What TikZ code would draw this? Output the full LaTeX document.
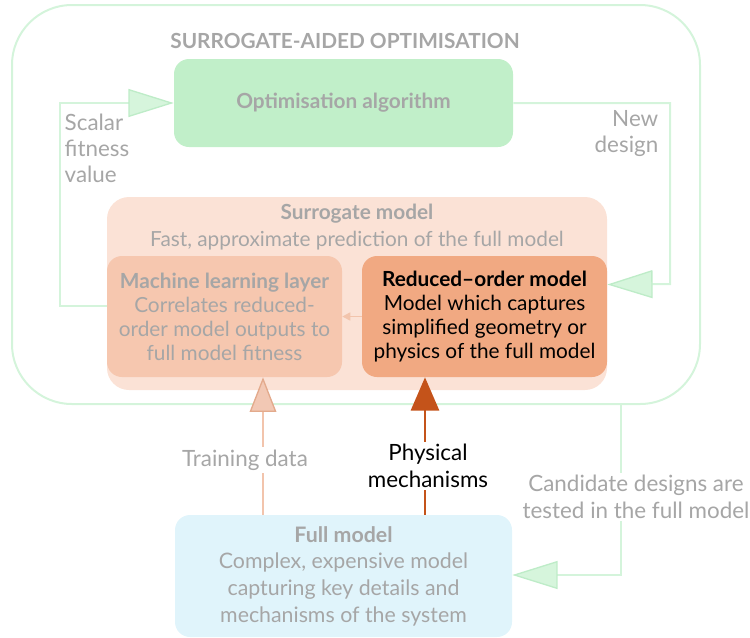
\documentclass[tikz,border=0pt]{standalone}
\usepackage{fontspec}
\setmainfont{Lato}
\usetikzlibrary{arrows.meta}
\newdimen\pxu
\pxu=0.75pt
\definecolor{linegreen}{RGB}{212,244,219}
\definecolor{tipgreen}{RGB}{214,245,220}
\definecolor{tipgreenline}{RGB}{190,236,200}
\definecolor{optgreen}{RGB}{193,239,201}
\definecolor{txtgray}{RGB}{166,166,166}
\definecolor{surrpeach}{RGB}{251,226,214}
\definecolor{mlpeach}{RGB}{246,199,175}
\definecolor{romorange}{RGB}{241,169,130}
\definecolor{fullblue}{RGB}{224,244,251}
\definecolor{darkorange}{RGB}{196,83,26}
\definecolor{trainline}{RGB}{242,196,172}
\definecolor{trainfill}{RGB}{242,200,180}
\definecolor{trainedge}{RGB}{227,170,140}
\begin{document}
\begin{tikzpicture}[x=0.75pt,y=-0.75pt,
    every node/.style={font=\fontsize{15.6}{18}\selectfont, text=txtgray},
    box/.style={rounded corners=15\pxu, inner sep=0pt, align=center},
    gline/.style={draw=linegreen, line width=1.5pt},
    garrow/.style={gline, -{Triangle[length=34pt, width=21pt, fill=tipgreen, color=tipgreenline, line width=1pt]}},
    tag/.style={fill=white, inner sep=2pt, align=center, font=\fontsize{16.8}{20}\selectfont}]
    \useasboundingbox (0,0) rectangle (750,637);
    \node[box, draw=linegreen, line width=1.5pt, rounded corners=60\pxu, minimum width=688\pxu, minimum height=399\pxu] (outer) at (356,204.5) {};
    \node[font=\fontsize{15.6}{18}\selectfont\bfseries] (title) at (345,41) {SURROGATE-AIDED OPTIMISATION};
    \node[box, fill=optgreen, minimum width=339\pxu, minimum height=88\pxu, font=\fontsize{15.6}{18}\selectfont\bfseries] (opt) at (343.5,103) {Optimisation algorithm};
    \node[box, fill=surrpeach, rounded corners=22\pxu, minimum width=500\pxu, minimum height=193\pxu] (surr) at (357,293.5) {};
    \node[font=\fontsize{15.6}{18}\selectfont\bfseries] (surrtitle) at (357,214) {Surrogate model};
    \node (surrtext) at (357,241) {Fast, approximate prediction of the full model};
    \node[box, fill=mlpeach, minimum width=235\pxu, minimum height=121\pxu] (ml) at (224.5,316.5)
      {\textbf{Machine learning layer}\\Correlates reduced-\\order model outputs to\\full model fitness};
    \node[box, fill=romorange, text=black, minimum width=245\pxu, minimum height=121\pxu] (rom) at (484.5,316.5)
      {\textbf{Reduced--order model}\\Model which captures\\simplified geometry or\\physics of the full model};
    \node[box, fill=fullblue, minimum width=337\pxu, minimum height=122\pxu, font=\fontsize{16}{20}\selectfont] (full) at (343.5,576)
      {\textbf{Full model}\\Complex, expensive model\\capturing key details and\\mechanisms of the system};
    \node[align=left, anchor=north west, font=\fontsize{16.8}{19.5}\selectfont] (scalar) at (60,109) {Scalar\\fitness\\value};
    \node[align=right, anchor=north east, font=\fontsize{16.8}{19.5}\selectfont] (newdes) at (663,106) {New\\design};
    \coordinate (rc) at (670,284);
    \coordinate (cc) at (621,575);
    \coordinate (td) at (263,460);
    \coordinate (pm) at (425,466);
    \draw[garrow] ([yshift=8pt]ml.west) -- ++(-47,0) |- (opt.west);
    \draw[garrow] (opt.east) -| (rc) -- ([yshift=24pt]rom.east);
    \draw[garrow] (outer.south -| cc) -- (cc) -- (full.east |- cc);
    \draw[draw=trainline, line width=1.5pt, -{Triangle[length=26pt, width=20pt, fill=trainfill, color=trainedge, line width=1pt]}] (full.north -| td) -- (ml.south -| td);
    \draw[draw=darkorange, line width=2.2pt, -{Triangle[length=25pt, width=21pt]}] (full.north -| pm) -- (rom.south -| pm);
    \draw[draw=trainline, line width=1.2pt, -{Triangle[length=6pt, width=6pt]}] (rom.west) -- (ml.east);
    \node[tag] (tdlabel) at (245,460) {Training data};
    \node[tag, text=black] (pmlabel) at (428,466) {Physical\\mechanisms};
    \node[tag] (cclabel) at (636,497) {Candidate designs are\\tested in the full model};
\end{tikzpicture}
\end{document}
